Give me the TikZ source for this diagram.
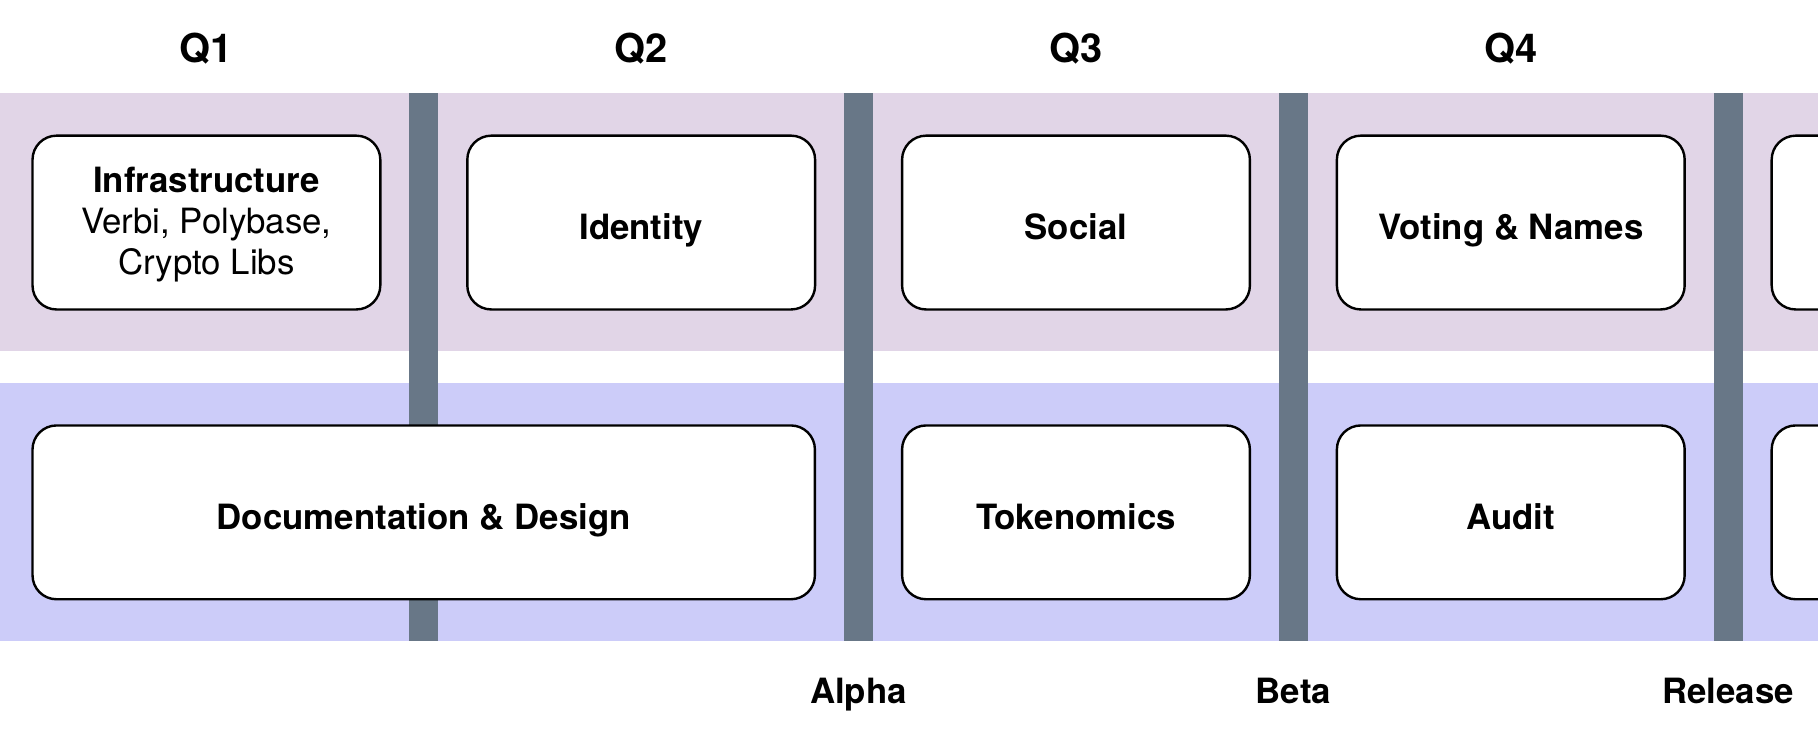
\documentclass[tikz,border=0pt]{standalone}
\usepackage{fontspec}
\setmainfont{TeX Gyre Heros}
\usepackage{tikz}
\usetikzlibrary{positioning}
\definecolor{topband}{HTML}{E1D5E7}
\definecolor{lowband}{HTML}{CCCCF9}
\definecolor{milestone}{HTML}{687787}
\tikzset{
  phase/.style = {
    rectangle, rounded corners=12pt,
    draw=black, line width=1.2pt,
    fill=white, minimum width=#1, minimum height=86.9pt,
    align=center, inner sep=0pt,
    text height=17.2pt, text depth=0pt,
    font=\fontsize{17.4}{20.6}\selectfont
  },
  phase/.default = 173.9pt,
  quarter/.style = {font=\fontsize{19.9}{23.9}\selectfont\bfseries,
    text height=14.3pt, text depth=0pt},
  gate/.style = {font=\fontsize{17.4}{20.6}\selectfont\bfseries,
    text height=12.5pt, text depth=0pt},
}

\begin{document}
\begin{tikzpicture}[x=1.242pt, y=-1.242pt, node distance=56.8pt and 42.3pt]
  \useasboundingbox (0,0) rectangle (731.9,298.7);
  \clip (0,0) rectangle (731.9,298.7);

  %% -- swimlanes ----------------------------------------------------------
  \fill[topband] (0,37.4) rectangle (731.9,141.4);
  \fill[lowband] (0,154) rectangle (731.9,258.1);

  %% -- milestone bars -----------------------------------------------------
  \foreach \x/\name in {170.6/m0, 345.6/alpha, 520.7/beta, 695.7/release} {
    \fill[milestone] (\x-5.85,37.4) rectangle (\x+5.85,258.1);
    \coordinate (\name) at (\x,278.2);
  }
  \coordinate (qrow) at (0,19.6);

  %% -- top lane -----------------------------------------------------------
  \node[phase, text height=52pt] (infra) at (83.1,89.6)
    {\textbf{Infrastructure}\\Verbi, Polybase,\\Crypto Libs};
  \node[phase, right=of infra] (identity) {\textbf{Identity}};
  \node[phase, right=of identity] (social) {\textbf{Social}};
  \node[phase, right=of social] (voting) {\textbf{Voting \& Names}};
  \node[phase, right=of voting] (nexttop) {};

  %% -- bottom lane --------------------------------------------------------
  \node[phase, below=of social] (tokenomics) {\textbf{Tokenomics}};
  \node[phase, below=of voting] (audit) {\textbf{Audit}};
  \node[phase, below=of nexttop] (nextlow) {};
  \node[phase=391.2pt, anchor=west] (docs) at (infra.west |- tokenomics.west)
    {\textbf{Documentation \& Design}};

  %% -- quarters and milestones --------------------------------------------
  \node[quarter] (q1) at (infra |- qrow) {Q1};
  \node[quarter] (q2) at (identity |- qrow) {Q2};
  \node[quarter] (q3) at (social |- qrow) {Q3};
  \node[quarter] (q4) at (voting |- qrow) {Q4};
  \node[gate] (alphalbl) at (alpha) {Alpha};
  \node[gate] (betalbl) at (beta) {Beta};
  \node[gate] (releaselbl) at (release) {Release};

\end{tikzpicture}
\end{document}
